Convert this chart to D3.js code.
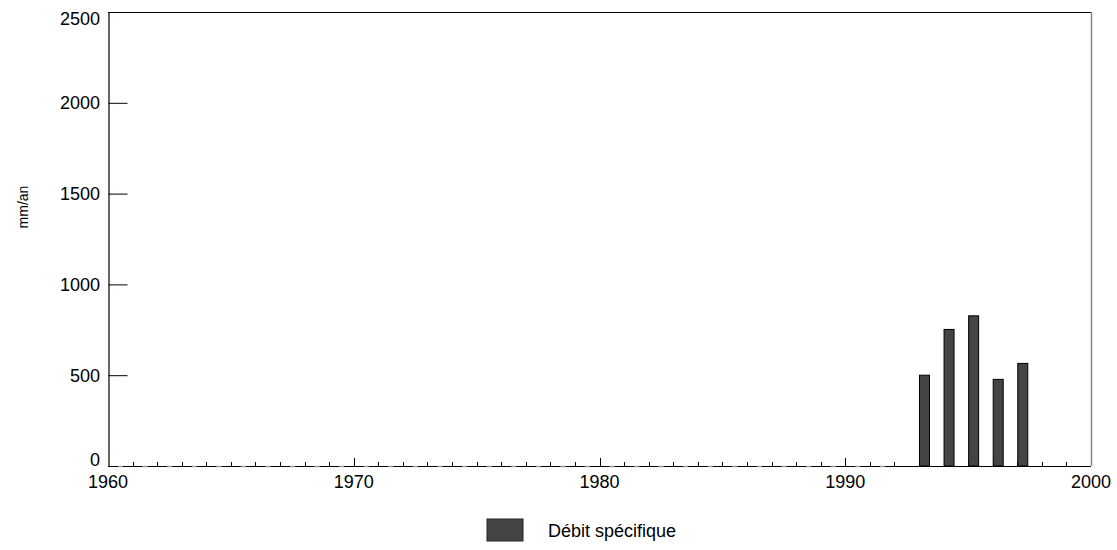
<!DOCTYPE html>
<html>
<head>
<meta charset="utf-8">
<script src="https://cdn.jsdelivr.net/npm/d3@7"></script>
<style>
  body { margin: 0; background: #fff; }
  svg { display: block; font-family: "Liberation Sans", Arial, sans-serif; }
</style>
</head>
<body>
<svg id="chart" width="1117" height="550"></svg>
<script>
// ---- data ----
const years = [1993, 1994, 1995, 1996, 1997];
const debitSpecifique = [500, 752, 827, 477, 565];
const yTicks = [0, 500, 1000, 1500, 2000, 2500];
const xMajorTicks = [1960, 1970, 1980, 1990, 2000];
const seriesName = "Débit spécifique";
const yLabel = "mm/an";

// ---- layout ----
const svg = d3.select("#chart");
const pLeft = 108, pRight = 1091, pTop = 12, pBottom = 466;
const x = d3.scaleLinear().domain([1960, 2000]).range([pLeft, pRight]);
const y = d3.scaleLinear().domain([0, 2500]).range([pBottom, pTop]);
const barW = 10;

// frame: top black, right gray
svg.append("line").attr("x1", pLeft).attr("x2", pRight).attr("y1", pTop + 0.5).attr("y2", pTop + 0.5)
  .attr("stroke", "#000").attr("stroke-width", 1.2);
svg.append("line").attr("x1", pRight + 0.5).attr("x2", pRight + 0.5).attr("y1", pTop).attr("y2", pBottom)
  .attr("stroke", "#888").attr("stroke-width", 1.5);

// left axis
const yAxis = d3.axisRight(y).tickValues(yTicks).tickSize(19).tickFormat("");
const gy = svg.append("g").attr("transform", `translate(${pLeft + 0.5},0)`).call(yAxis);
gy.select(".domain").attr("stroke", "#000").attr("stroke-width", 1.2);
gy.selectAll(".tick line").attr("stroke", "#000");
svg.append("g").selectAll("text").data(yTicks).join("text")
  .attr("x", 100).attr("y", d => Math.max(19, Math.min(460, y(d)))).attr("dy", "0.35em")
  .attr("text-anchor", "end").attr("font-size", 18).attr("fill", "#000")
  .text(d => d);

// y label
svg.append("text").attr("transform", `translate(28,207) rotate(-90)`)
  .attr("text-anchor", "middle").attr("font-size", 14).text(yLabel);

// bottom axis: minor ticks each year, major every 10
const allYears = d3.range(1960, 2001);
const gx = svg.append("g");
gx.append("line").attr("x1", pLeft).attr("x2", pRight).attr("y1", pBottom + 0.5).attr("y2", pBottom + 0.5)
  .attr("stroke", "#000").attr("stroke-width", 1.2);
// gray baseline segments (empty second slot of each year)
gx.selectAll("line.gap").data(d3.range(1960, 1992)).join("line").attr("class", "gap")
  .attr("x1", d => x(d) + barW).attr("x2", d => x(d) + barW + 5)
  .attr("y1", pBottom + 0.5).attr("y2", pBottom + 0.5)
  .attr("stroke", "#999").attr("stroke-width", 1.4);
gx.selectAll("line.tick").data(allYears.filter(d => d > 1960 && d < 2000)).join("line").attr("class", "tick")
  .attr("x1", d => Math.round(x(d)) + 0.5).attr("x2", d => Math.round(x(d)) + 0.5)
  .attr("y1", pBottom).attr("y2", d => pBottom - (d % 10 === 0 ? 8 : 4))
  .attr("stroke", "#000");
gx.selectAll("text").data(xMajorTicks).join("text")
  .attr("x", d => x(d)).attr("y", 482).attr("dy", "0.35em")
  .attr("text-anchor", "middle").attr("font-size", 18).text(d => d);

// bars
svg.append("g").selectAll("rect").data(years.map((yr, i) => ({yr, v: debitSpecifique[i]}))).join("rect")
  .attr("x", d => x(d.yr) + 0.5).attr("width", barW)
  .attr("y", d => y(d.v)).attr("height", d => pBottom - y(d.v))
  .attr("fill", "#444444").attr("stroke", "#000").attr("stroke-width", 1);

// legend
svg.append("rect").attr("x", 487).attr("y", 519).attr("width", 36).attr("height", 22)
  .attr("fill", "#444444").attr("stroke", "#222").attr("stroke-width", 1);
svg.append("text").attr("x", 548).attr("y", 531).attr("dy", "0.35em")
  .attr("font-size", 18).text(seriesName);
</script>
</body>
</html>
